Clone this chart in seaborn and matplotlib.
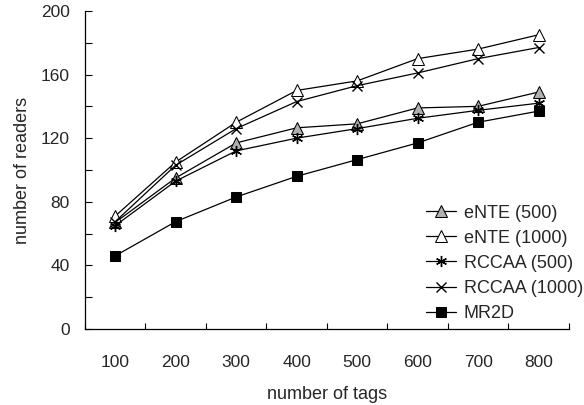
import matplotlib
matplotlib.use("Agg")
import matplotlib.pyplot as plt
import seaborn as sns
import pandas as pd
import numpy as np

tags = [100, 200, 300, 400, 500, 600, 700, 800]
ente_500 = [67, 95, 117, 126.5, 129, 139, 140, 149]
ente_1000 = [71, 105, 130, 150, 156, 170, 176, 185]
rccaa_500 = [65, 93, 112, 120, 126, 132.5, 137.5, 142]
rccaa_1000 = [67.5, 103, 126, 143, 153, 161, 170, 177]
mr2d = [46, 67.5, 83, 96, 106.5, 117, 130, 137]

series = [
    ("eNTE (500)", ente_500, dict(marker="^", markerfacecolor="#b0b0b0", markeredgecolor="black", markersize=8)),
    ("eNTE (1000)", ente_1000, dict(marker="^", markerfacecolor="white", markeredgecolor="black", markersize=8)),
    ("RCCAA (500)", rccaa_500, dict(marker=(6, 2, 0), markeredgecolor="black", markersize=8, markeredgewidth=1.0)),
    ("RCCAA (1000)", rccaa_1000, dict(marker="x", markeredgecolor="black", markersize=7, markeredgewidth=1.0)),
    ("MR2D", mr2d, dict(marker="s", markerfacecolor="black", markeredgecolor="black", markersize=7.5)),
]

sns.set_style("white")
plt.rcParams['font.family'] = ['Liberation Sans', 'DejaVu Sans']

fig = plt.figure(figsize=(5.84, 4.05), dpi=100)
ax = fig.add_axes([0.1455, 0.1877, 0.8285, 0.7853])

pos = np.arange(len(tags))
for name, vals, kw in series:
    df = pd.DataFrame({"x": pos, "y": vals})
    sns.lineplot(data=df, x="x", y="y", ax=ax, color="black", linewidth=0.9,
                 label=name, **kw)

ax.set_xlim(-0.5, len(tags) - 0.5)
ax.set_ylim(0, 200)
ax.set_xticks(np.arange(-0.5, len(tags), 1.0))
ax.set_xticklabels([])
ax.set_xticks(pos, minor=True)
ax.set_xticklabels([str(t) for t in tags], minor=True)
ax.set_yticks(np.arange(0, 201, 40))
ax.set_yticks(np.arange(0, 201, 20), minor=True)
ax.tick_params(bottom=True, left=True, which="both")
ax.tick_params(axis="x", which="major", direction="in", length=4, width=0.8, color="black")
ax.tick_params(axis="y", which="both", direction="in", length=5, width=0.8, color="black")
ax.tick_params(axis="y", which="major", labelsize=12.5, pad=11)
ax.tick_params(axis="x", which="minor", length=0, labelsize=12.5, pad=19)

for s in ["top", "right"]:
    ax.spines[s].set_visible(False)
for s in ["left", "bottom"]:
    ax.spines[s].set_color("black")
    ax.spines[s].set_linewidth(0.9)

ax.set_xlabel("number of tags", fontsize=13, labelpad=11)
ax.set_ylabel("number of readers", fontsize=13, labelpad=7)

leg = ax.legend(loc="lower right", bbox_to_anchor=(1.055, -0.018), frameon=False, fontsize=13,
                handlelength=1.7, handletextpad=0.4, labelspacing=0.45, borderaxespad=0.3)

fig.savefig("out.png", dpi=100)
